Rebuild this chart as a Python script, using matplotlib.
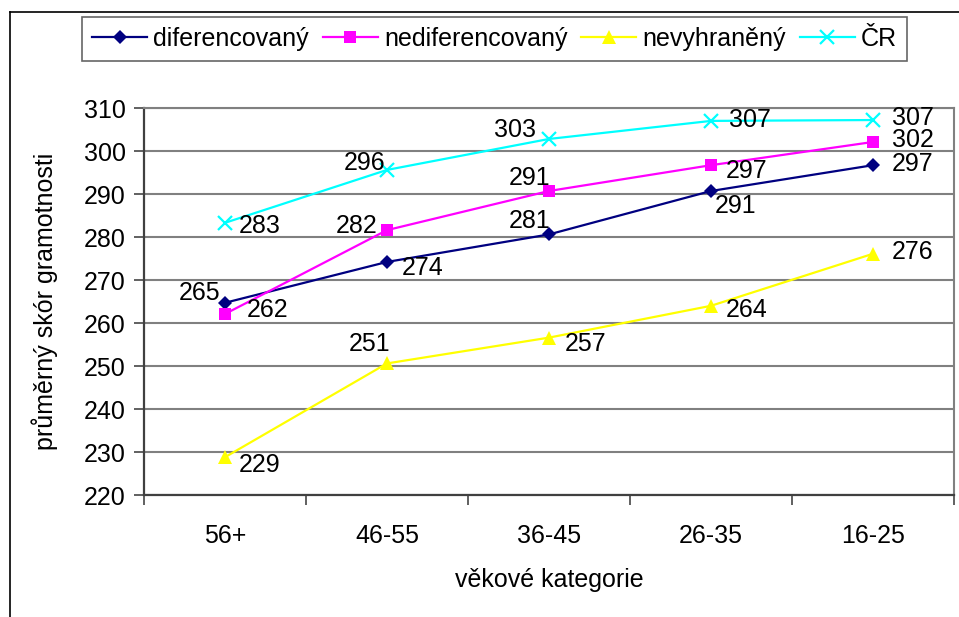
import matplotlib
matplotlib.use("Agg")
import matplotlib.pyplot as plt
from matplotlib.lines import Line2D

plt.rcParams['font.family'] = ['Liberation Sans', 'DejaVu Sans']

categories = ["56+", "46-55", "36-45", "26-35", "16-25"]
diferencovany = [264.7, 274.2, 280.6, 290.7, 296.7]
nediferencovany = [262.1, 281.6, 290.7, 296.7, 302.1]
nevyhraneny = [228.8, 250.6, 256.6, 264.0, 276.1]
cr = [283.3, 295.6, 302.8, 307.0, 307.2]

series_names = ["diferencovaný", "nediferencovaný", "nevyhraněný", "ČR"]
y_ticks = [220, 230, 240, 250, 260, 270, 280, 290, 300, 310]
x_label = "věkové kategorie"
y_label = "průměrný skór gramotnosti"

colors = ["#000080", "#FF00FF", "#FFFF00", "#00FFFF"]
markers = ["D", "s", "^", "x"]
msizes = [7.5, 8.5, 9.5, 9.5]

# label offsets in pixels (dx, dy up) for each series/point
offsets = [
    [(-25, 10), (36, -6), (-19, 13), (25, -15), (40, 1)],
    [(43, 4), (-30, 4), (-19, 13), (36, -6), (40, 2)],
    [(35, -8), (-17, 19), (37, -6), (36, -4), (40, 2)],
    [(35, -3), (-22, 7), (-34, 9), (39, 1), (40, 2)],
]

FS = 18
PX = 0.72  # points per pixel at dpi 100

fig = plt.figure(figsize=(9.59, 6.17), dpi=100)
ax = fig.add_axes([144 / 959, 1 - 495 / 617, 810 / 959, 387 / 617])

x = list(range(len(categories)))
all_series = [diferencovany, nediferencovany, nevyhraneny, cr]
for vals, c, m, ms, name, offs in zip(all_series, colors, markers, msizes, series_names, offsets):
    kw = dict(markeredgewidth=1.6) if m == "x" else dict(markeredgewidth=0)
    ax.plot(x, vals, color=c, marker=m, markersize=ms, linewidth=1.6, label=name,
            markerfacecolor=c, markeredgecolor=c, zorder=3, **kw)
    for xi, v, (dx, dy) in zip(x, vals, offs):
        ax.annotate(f"{v:.0f}", (xi, v), xytext=(dx * PX, dy * PX), textcoords="offset points",
                    ha="center", va="center", fontsize=FS, color="black", zorder=4)

ax.set_xlim(-0.5, len(categories) - 0.5)
ax.set_ylim(220, 310)
ax.set_yticks(y_ticks)
ax.set_yticklabels([str(t) for t in y_ticks], fontsize=FS)
ax.yaxis.grid(True, color="#808080", linewidth=1.5)
ax.set_axisbelow(True)

ax.set_xticks(x)
ax.set_xticklabels(categories, fontsize=FS)
ax.set_xticks([i - 0.5 for i in range(len(categories) + 1)], minor=True)
ax.tick_params(axis="x", which="major", length=0, pad=21)
ax.tick_params(axis="x", which="minor", length=7, width=1.4, color="#606060", direction="out")
ax.tick_params(axis="y", length=7, width=1.4, color="#606060", direction="out", pad=6)

for s in ["top", "right"]:
    ax.spines[s].set_color("#808080")
    ax.spines[s].set_linewidth(1.5)
for s in ["left", "bottom"]:
    ax.spines[s].set_color("#404040")
    ax.spines[s].set_linewidth(1.6)

ax.set_xlabel(x_label, fontsize=FS, labelpad=14)
ax.set_ylabel(y_label, fontsize=FS, labelpad=19)

leg = ax.legend(loc="upper left", bbox_to_anchor=(82 / 959, 1 - 17 / 617), bbox_transform=fig.transFigure,
                ncol=4, fontsize=FS, frameon=True, fancybox=False, edgecolor="#404040",
                handlelength=2.2, handletextpad=0.25, columnspacing=0.55, borderpad=0.4,
                borderaxespad=0)
leg.get_frame().set_linewidth(1.2)

# chart area border (left and top)
fig.add_artist(Line2D([10 / 959, 10 / 959], [0, 1 - 12 / 617], transform=fig.transFigure, color="black", linewidth=1.2))
fig.add_artist(Line2D([10 / 959, 1], [1 - 12 / 617, 1 - 12 / 617], transform=fig.transFigure, color="black", linewidth=1.2))

fig.savefig("out.png", dpi=100)
